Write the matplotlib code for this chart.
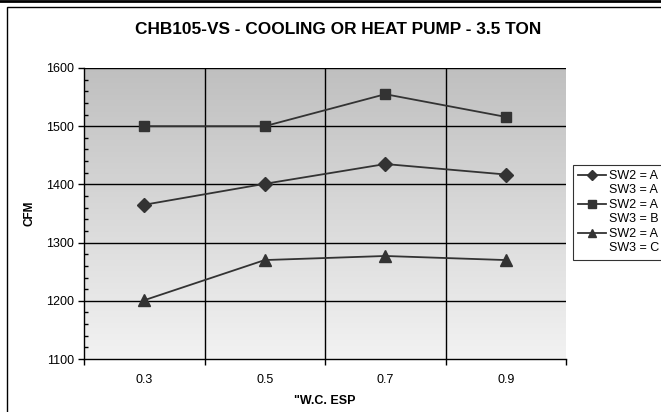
import matplotlib
matplotlib.use("Agg")
import matplotlib.pyplot as plt
import numpy as np
from matplotlib.lines import Line2D
from matplotlib.patches import Rectangle

plt.rcParams['font.family'] = ['Liberation Sans', 'DejaVu Sans']

categories = ["0.3", "0.5", "0.7", "0.9"]
sw3_a = [1365, 1401, 1435, 1417]
sw3_b = [1500, 1500, 1555, 1516]
sw3_c = [1201, 1270, 1277, 1270]
labels = [("SW2 = A", "SW3 = A"), ("SW2 = A", "SW3 = B"), ("SW2 = A", "SW3 = C")]
yticks = [1100, 1200, 1300, 1400, 1500, 1600]

W, H = 661, 412
fig = plt.figure(figsize=(W / 100, H / 100), dpi=100)
ax = fig.add_axes([84 / W, 1 - 359 / H, (566 - 84) / W, (359 - 68) / H])

# gradient background
g = np.linspace(0, 1, 256)[:, None]
top, bot = 0.75, 0.95
vals = top + (bot - top) * g
img = np.dstack([vals, vals, vals])
ax.imshow(img, extent=[0, 1, 0, 1], transform=ax.transAxes, aspect='auto', zorder=0,
          origin='upper', interpolation='bilinear')

x = np.arange(len(categories))
col = '#333333'
l1, = ax.plot(x, sw3_a, color=col, lw=1.3, marker='D', ms=7, zorder=4)
l2, = ax.plot(x, sw3_b, color=col, lw=1.3, marker='s', ms=7.5, zorder=4)
l3, = ax.plot(x, sw3_c, color=col, lw=1.3, marker='^', ms=8.5, zorder=4)

ax.set_xlim(-0.5, len(categories) - 0.5)
ax.set_ylim(yticks[0], yticks[-1])
ax.set_yticks(yticks)
ax.set_yticks(np.arange(yticks[0], yticks[-1] + 1, 20), minor=True)
ax.set_xticks(x)
ax.set_xticklabels(categories)
ax.set_xticks(np.arange(-0.5, len(categories)), minor=True)
ax.tick_params(axis='x', which='major', length=0, pad=11, labelsize=9)
ax.tick_params(axis='x', which='minor', length=4, direction='out', width=1)
ax.tick_params(axis='y', which='major', length=4, direction='out', width=1, labelsize=9, pad=3)
ax.tick_params(axis='y', which='minor', length=3, direction='in', width=1)

for yv in yticks[1:]:
    ax.axhline(yv, color='black', lw=1, zorder=2)
for xv in np.arange(0.5, len(categories) - 0.5):
    ax.axvline(xv, color='black', lw=1, zorder=2)

for s in ['top', 'right']:
    ax.spines[s].set_visible(False)
for s in ['left', 'bottom']:
    ax.spines[s].set_linewidth(1)
    ax.spines[s].set_zorder(5)

ax.set_xlabel('"W.C. ESP', fontsize=9, fontweight='bold', labelpad=6)
ax.set_ylabel('CFM', fontsize=8.5, fontweight='bold')
ax.yaxis.set_label_coords(-0.1, 0.5)

fig.text(338 / W, 1 - 30 / H, 'CHB105-VS - COOLING OR HEAT PUMP - 3.5 TON', ha='center', va='center',
         fontsize=12.4, fontweight='bold')

# legend
blank = Line2D([], [], color='none')
handles, texts = [], []
for h, (a, b) in zip([l1, l2, l3], labels):
    handles += [h, blank]
    texts += [a, b]
leg = fig.legend(handles, texts, loc='upper left', bbox_to_anchor=(573 / W, 1 - 165 / H),
                 bbox_transform=fig.transFigure, fontsize=9, frameon=True, fancybox=False,
                 edgecolor='black', borderaxespad=0, labelspacing=0.2, handlelength=2.2,
                 handletextpad=0.25, borderpad=0.4, markerscale=0.75)
leg.get_frame().set_linewidth(0.8)

# outer frame
fig.add_artist(Line2D([0, 1], [1 - 1 / H, 1 - 1 / H], transform=fig.transFigure, color='black', lw=2))
fig.add_artist(Rectangle((7 / W, -0.1), 1, 1 - 7 / H + 0.1, transform=fig.transFigure,
                         fill=False, edgecolor='black', lw=1))

fig.savefig('out.png', dpi=100)
